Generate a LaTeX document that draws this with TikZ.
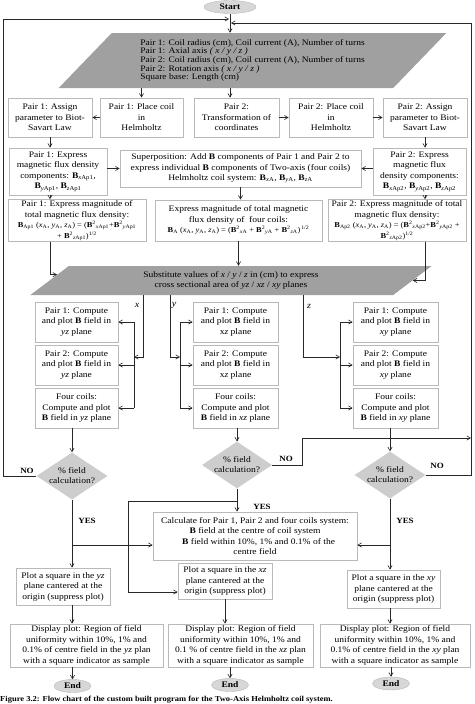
\documentclass[tikz,border=0pt]{standalone}
\usepackage{fontspec}
\setmainfont{Liberation Serif}[FakeStretch=1.12]
\usepackage{tikz}
\usetikzlibrary{arrows,shapes,positioning,calc}
\definecolor{fcline}{RGB}{40,40,40}
\definecolor{fcborder}{RGB}{185,185,185}
\definecolor{fcdark}{RGB}{160,160,160}
\definecolor{fclight}{RGB}{205,205,205}
\definecolor{fcterm}{RGB}{215,215,215}
\newcommand{\Bsub}[1]{\textbf{B}\textsubscript{#1}}
\newcommand{\Bsq}[1]{\textbf{B}\textsuperscript{2}\textsubscript{#1}}
\newcommand{\crdA}[1]{\textit{#1}\textsubscript{A}}
\tikzstyle{process} = [rectangle, draw=fcborder, fill=white, align=center, inner sep=1pt, line width=0.8pt, font=\fontsize{8.5}{10.5}\selectfont]
\tikzstyle{io} = [trapezium, fill=fcdark, inner ysep=1pt, font=\fontsize{8.5}{8.6}\selectfont]
\tikzstyle{decision} = [diamond, aspect=1.5, fill=fclight, inner sep=0pt, align=center, font=\fontsize{8.5}{10}\selectfont]
\tikzstyle{terminal} = [ellipse, draw=fcborder, fill=fcterm, inner sep=0pt, font=\bfseries\fontsize{8.5}{10}\selectfont]
\tikzstyle{arrow} = [->,>=angle 60,line width=0.6pt,color=fcline]
\tikzstyle{line} = [line width=0.6pt,color=fcline]
\tikzstyle{answer} = [font=\bfseries\fontsize{8}{9}\selectfont, inner sep=0pt]
\tikzstyle{axis} = [font=\itshape\fontsize{9}{10}\selectfont, inner sep=0pt]

\begin{document}
\begin{tikzpicture}[x=1pt,y=-1pt]
\useasboundingbox (0,0) rectangle (474,704);
% Start and input
\node[terminal, minimum width=52pt, minimum height=13pt] (start) at (230,7) {Start};
\node[io, align=left, trapezium left angle=46, trapezium right angle=134, minimum height=55pt, inner xsep=1pt] (input) at (252.5,60.5) {Pair 1: Coil radius (cm), Coil current (A), Number of turns\\
Pair 1: Axial axis \textit{( x / y / z )}\\
Pair 2: Coil radius (cm), Coil current (A), Number of turns\\
Pair 2: Rotation axis \textit{( x / y / z )}\\
Square base: Length (cm)};

% First row
\node[process, minimum width=84pt, minimum height=39pt] (A) at (50,117.5) {Pair 1: Assign\\ parameter to Biot-\\ Savart Law};
\node[process, minimum width=83pt, minimum height=39pt] (B) at (141.5,117.5) {Pair 1: Place coil\\ in\\ Helmholtz};
\node[process, minimum width=85pt, minimum height=39pt] (C) at (236.5,117.5) {Pair 2:\\ Transformation of\\ coordinates};
\node[process, minimum width=84pt, minimum height=39pt] (D) at (331,117.5) {Pair 2: Place coil\\ in\\ Helmholtz};
\node[process, minimum width=84pt, minimum height=39pt] (E) at (425,117.5) {Pair 2: Assign\\ parameter to Biot-\\ Savart Law};

% Second row
\node[process, minimum width=98pt, minimum height=47pt] (F) at (58,171.5) {Pair 1: Express\\ magnetic flux density\\ components: \Bsub{\textit{x}Ap1},\\ \Bsub{\textit{y}Ap1}, \Bsub{\textit{z}Ap1}};
\node[process, minimum width=241pt, minimum height=37pt] (G) at (240.5,168.5) {Superposition: Add \textbf{B} components of Pair 1 and Pair 2 to\\ express individual \textbf{B} components of Two-axis (four coils)\\ Helmholtz coil system: \Bsub{\textit{x}A}, \Bsub{\textit{y}A}, \Bsub{\textit{z}A}};
\node[process, minimum width=93pt, minimum height=47pt] (H) at (419.5,171.5) {Pair 2: Express\\ magnetic flux\\ density components:\\ \Bsub{\textit{x}Ap2}, \Bsub{\textit{y}Ap2}, \Bsub{\textit{z}Ap2}};

% Third row
\node[process, minimum width=138pt, minimum height=41pt] (I) at (77,220.5) {Pair 1: Express magnitude of\\ total magnetic flux density:\\ {\fontsize{7.5}{9}\selectfont\Bsub{Ap1} (\crdA{x}, \crdA{y}, \crdA{z}) = (\Bsq{\textit{x}Ap1}+\Bsq{\textit{y}Ap1}}\\ {\fontsize{7.5}{9}\selectfont + \Bsq{\textit{z}Ap1})\textsuperscript{1/2}}};
\node[process, minimum width=167pt, minimum height=41pt] (J) at (238.5,220.5) {Express magnitude of total magnetic\\ flux density of\ \ four coils:\\ {\fontsize{7.5}{9}\selectfont\Bsub{A}\ (\crdA{x}, \crdA{y}, \crdA{z}) = (\Bsq{\textit{x}A} + \Bsq{\textit{y}A} + \Bsq{\textit{z}A})\textsuperscript{\,1/2}}};
\node[process, minimum width=138pt, minimum height=41pt] (K) at (397,220.5) {Pair 2: Express magnitude of total\\ magnetic flux density:\\ {\fontsize{7.5}{9}\selectfont\Bsub{Ap2} (\crdA{x}, \crdA{y}, \crdA{z}) = (\Bsq{\textit{x}Ap2}+\Bsq{\textit{y}Ap2} +}\\ {\fontsize{7.5}{9}\selectfont\Bsq{\textit{z}Ap2})\textsuperscript{1/2}}};

% Substitute
\node[io, align=center, trapezium left angle=37, trapezium right angle=143, minimum height=29pt, inner xsep=26pt, font=\fontsize{8.5}{10.5}\selectfont] (subst) at (231,280.5) {Substitute values of \textit{x} / \textit{y} / \textit{z} in (cm) to express\\ cross sectional area of \textit{yz} / \textit{xz} / \textit{xy} planes};

% Compute boxes
\node[process, minimum width=83pt, minimum height=40pt] (xc1) at (76.5,322) {Pair 1: Compute\\ and plot \textbf{B} field in\\ \textit{yz} plane};
\node[process, minimum width=83pt, minimum height=40pt] (xc2) at (76.5,365) {Pair 2: Compute\\ and plot \textbf{B} field in\\ \textit{yz} plane};
\node[process, minimum width=83pt, minimum height=40pt] (xc3) at (76.5,408) {Four coils:\\ Compute and plot\\ \textbf{B} field in \textit{yz} plane};
\node[process, minimum width=85pt, minimum height=40pt] (yc1) at (235.5,322) {Pair 1: Compute\\ and plot \textbf{B} field in\\ x\textit{z} plane};
\node[process, minimum width=85pt, minimum height=40pt] (yc2) at (235.5,365) {Pair 2: Compute\\ and plot \textbf{B} field in\\ x\textit{z} plane};
\node[process, minimum width=85pt, minimum height=40pt] (yc3) at (235.5,408) {Four coils:\\ Compute and plot\\ \textbf{B} field in \textit{xz} plane};
\node[process, minimum width=85pt, minimum height=40pt] (zc1) at (395.5,322) {Pair 1: Compute\\ and plot \textbf{B} field in\\ \textit{xy} plane};
\node[process, minimum width=85pt, minimum height=40pt] (zc2) at (395.5,365) {Pair 2: Compute\\ and plot \textbf{B} field in\\ \textit{xy} plane};
\node[process, minimum width=85pt, minimum height=40pt] (zc3) at (395.5,408) {Four coils:\\ Compute and plot\\ \textbf{B} field in \textit{xy} plane};

% Axis labels
\node[axis] (xlab) at (137,305) {x};
\node[axis] (ylab) at (174,305) {y};
\node[axis] (zlab) at (309,306) {z};

% Decisions
\node[decision, minimum width=71pt, minimum height=47pt] (xdia) at (72,476) {\% field\\ calculation?};
\node[decision, minimum width=68pt, minimum height=42pt] (ydia) at (237,465) {\% field\\ calculation?};
\node[decision, minimum width=71pt, minimum height=47pt] (zdia) at (390,475) {\% field\\ calculation?};
\node[answer] (noL) at (27,471) {NO};
\node[answer] (noM) at (286,459) {NO};
\node[answer] (noR) at (437,466) {NO};
\node[answer] (yesL) at (87,521) {YES};
\node[answer] (yesM) at (262,507) {YES};
\node[answer] (yesR) at (405,521) {YES};

% Centre calculation
\node[process, minimum width=204pt, minimum height=48pt] (calc) at (255,536) {Calculate for Pair 1, Pair 2 and four coils system:\\ \textbf{B} field at the centre of coil system\\ \ \ \ \textbf{B} field within 10\%, 1\% and 0.1\% of the\\ centre field};

% Plots
\node[process, minimum width=94pt, minimum height=37pt] (xp) at (63,586.5) {Plot a square in the \textit{yz}\\ plane cantered at the\\ origin (suppress plot)};
\node[process, minimum width=94pt, minimum height=36pt] (yp) at (225,581) {Plot a square in the \textit{xz}\\ plane cantered at the\\ origin (suppress plot)};
\node[process, minimum width=93pt, minimum height=38pt] (zp) at (393.5,589) {Plot a square in the \textit{xy}\\ plane cantered at the\\ origin (suppress plot)};
\node[process, minimum width=153pt, minimum height=43pt] (xd) at (86.5,645.5) {Display plot: Region of field\\ uniformity within 10\%, 1\% and\\ 0.1\% of centre field in the \textit{yz} plan\\ with a square indicator as sample};
\node[process, minimum width=145pt, minimum height=43pt] (yd) at (240.5,645.5) {Display plot: Region of field\\ uniformity within 10\%, 1\% and\\ 0.1 \% of centre field in the \textit{xz} plan\\ with a square indicator as sample};
\node[process, minimum width=150pt, minimum height=43pt] (zd) at (395,645.5) {Display plot: Region of field\\ uniformity within 10\%, 1\% and\\ 0.1\% of centre field in the \textit{xy} plan\\ with a square indicator as sample};
\node[terminal, minimum width=37pt, minimum height=13pt] (xend) at (72.5,686) {End};
\node[terminal, minimum width=37pt, minimum height=13pt] (yend) at (230,685) {End};
\node[terminal, minimum width=37pt, minimum height=13pt] (zend) at (391,683.5) {End};
\node[anchor=south west, inner sep=0pt, font=\bfseries\fontsize{7.6}{9}\selectfont] (caption) at (0,703.8) {Figure 3.2: Flow chart of the custom built program for the Two-Axis Helmholtz coil system.};

% Connector points
\coordinate (loopL) at (3,19);
\coordinate (loopR) at (471,23);
\coordinate (topL) at (229,19);
\coordinate (topR) at (231,23);
\coordinate (midNO) at (302,438);
\coordinate (xdrop) at (143,357);
\coordinate (ydrop) at (170,357);
\coordinate (zdrop) at (303,357);
\coordinate (xjoin) at (134,357);
\coordinate (yjoin) at (180,357);
\coordinate (zjoin) at (340,357);
\coordinate (cbr) at (0,545);
\coordinate (ybr) at (128,501);
\coordinate (yin) at (128,592);

% Top part
\draw[arrow] (start) -- (input.north -| start);
\draw[arrow] (input.south -| B) -- (B);
\draw[arrow] (input.south -| start) -- (start |- C.north);
\draw[arrow] (B) -- (A);
\draw[arrow] (C) -- (D);
\draw[arrow] (D) -- (E);
\draw[arrow] (A) -- (A |- F.north);
\draw[arrow] (E) -- (E |- H.north);
\draw[arrow] (F.east |- G) -- (G);
\draw[arrow] (H.west |- G) -- (G);
\draw[arrow] (F.south -| A) -- (A |- I.north);
\draw[arrow] (G) -- (G |- J.north);
\draw[arrow] (H.south -| E) -- (E |- K.north);
\draw[arrow] (I.south -| A) |- ($(subst.top left corner)!0.3!(subst.bottom left corner)$);
\draw[arrow] (J) -- (J |- subst.north);
\draw[arrow] (K.south -| E) |- (subst.east);

% Branches x / y / z
\draw[arrow] (subst.south -| xdrop) -- (xdrop) -- (xjoin);
\draw[arrow] (subst.south -| ydrop) -- (ydrop) -- (yjoin);
\draw[arrow] (subst.south -| zdrop) -- (zdrop) -- (zjoin);
\draw[line] (xc1.east -| xjoin) -- (xc3.east -| xjoin);
\draw[line] (yc1.west -| yjoin) -- (yc3.west -| yjoin);
\draw[line] (zc1.west -| zjoin) -- (zc3.west -| zjoin);
\foreach \b in {xc1,xc2,xc3} \draw[arrow] (\b.east -| xjoin) -- (\b.east);
\foreach \b in {yc1,yc2,yc3} \draw[arrow] (\b.west -| yjoin) -- (\b.west);
\foreach \b in {zc1,zc2,zc3} \draw[arrow] (\b.west -| zjoin) -- (\b.west);
\draw[arrow] (xc3.south -| xdia) -- (xdia);
\draw[arrow] (yc3.south -| ydia) -- (ydia);
\draw[arrow] (zc3.south -| zdia) -- (zdia);

% NO loops
\draw[arrow] (xdia.west) -- (xdia.west -| loopL) -- (loopL) -- (topL);
\draw[arrow] (zdia.east) -- (zdia.east -| loopR) -- (loopR) -- (topR);
\draw[arrow] (ydia.east) -- (ydia.east -| midNO) -- (midNO) -- (midNO -| loopR);

% YES paths
\draw[arrow] (xdia) -- (xdia |- xp.north);
\draw[arrow] (xdia |- cbr) -- (calc.west |- cbr);
\draw[arrow] (zdia) -- (zdia |- zp.north);
\draw[arrow] (zdia |- cbr) -- (calc.east |- cbr);
\draw[arrow] (ydia) -- (ydia |- calc.north);
\draw[arrow] (ydia |- ybr) -- (ybr) -- (yin) -- (yp.west |- yin);

% Display and end
\draw[arrow] (xp.south -| xdia) -- (xdia |- xd.north);
\draw[arrow] (yp) -- (yp |- yd.north);
\draw[arrow] (zp.south -| zdia) -- (zdia |- zd.north);
\draw[arrow] (xd.south -| xend) -- (xend);
\draw[arrow] (yd.south -| yend) -- (yend);
\draw[arrow] (zd.south -| zend) -- (zend);
\end{tikzpicture}
\end{document}
